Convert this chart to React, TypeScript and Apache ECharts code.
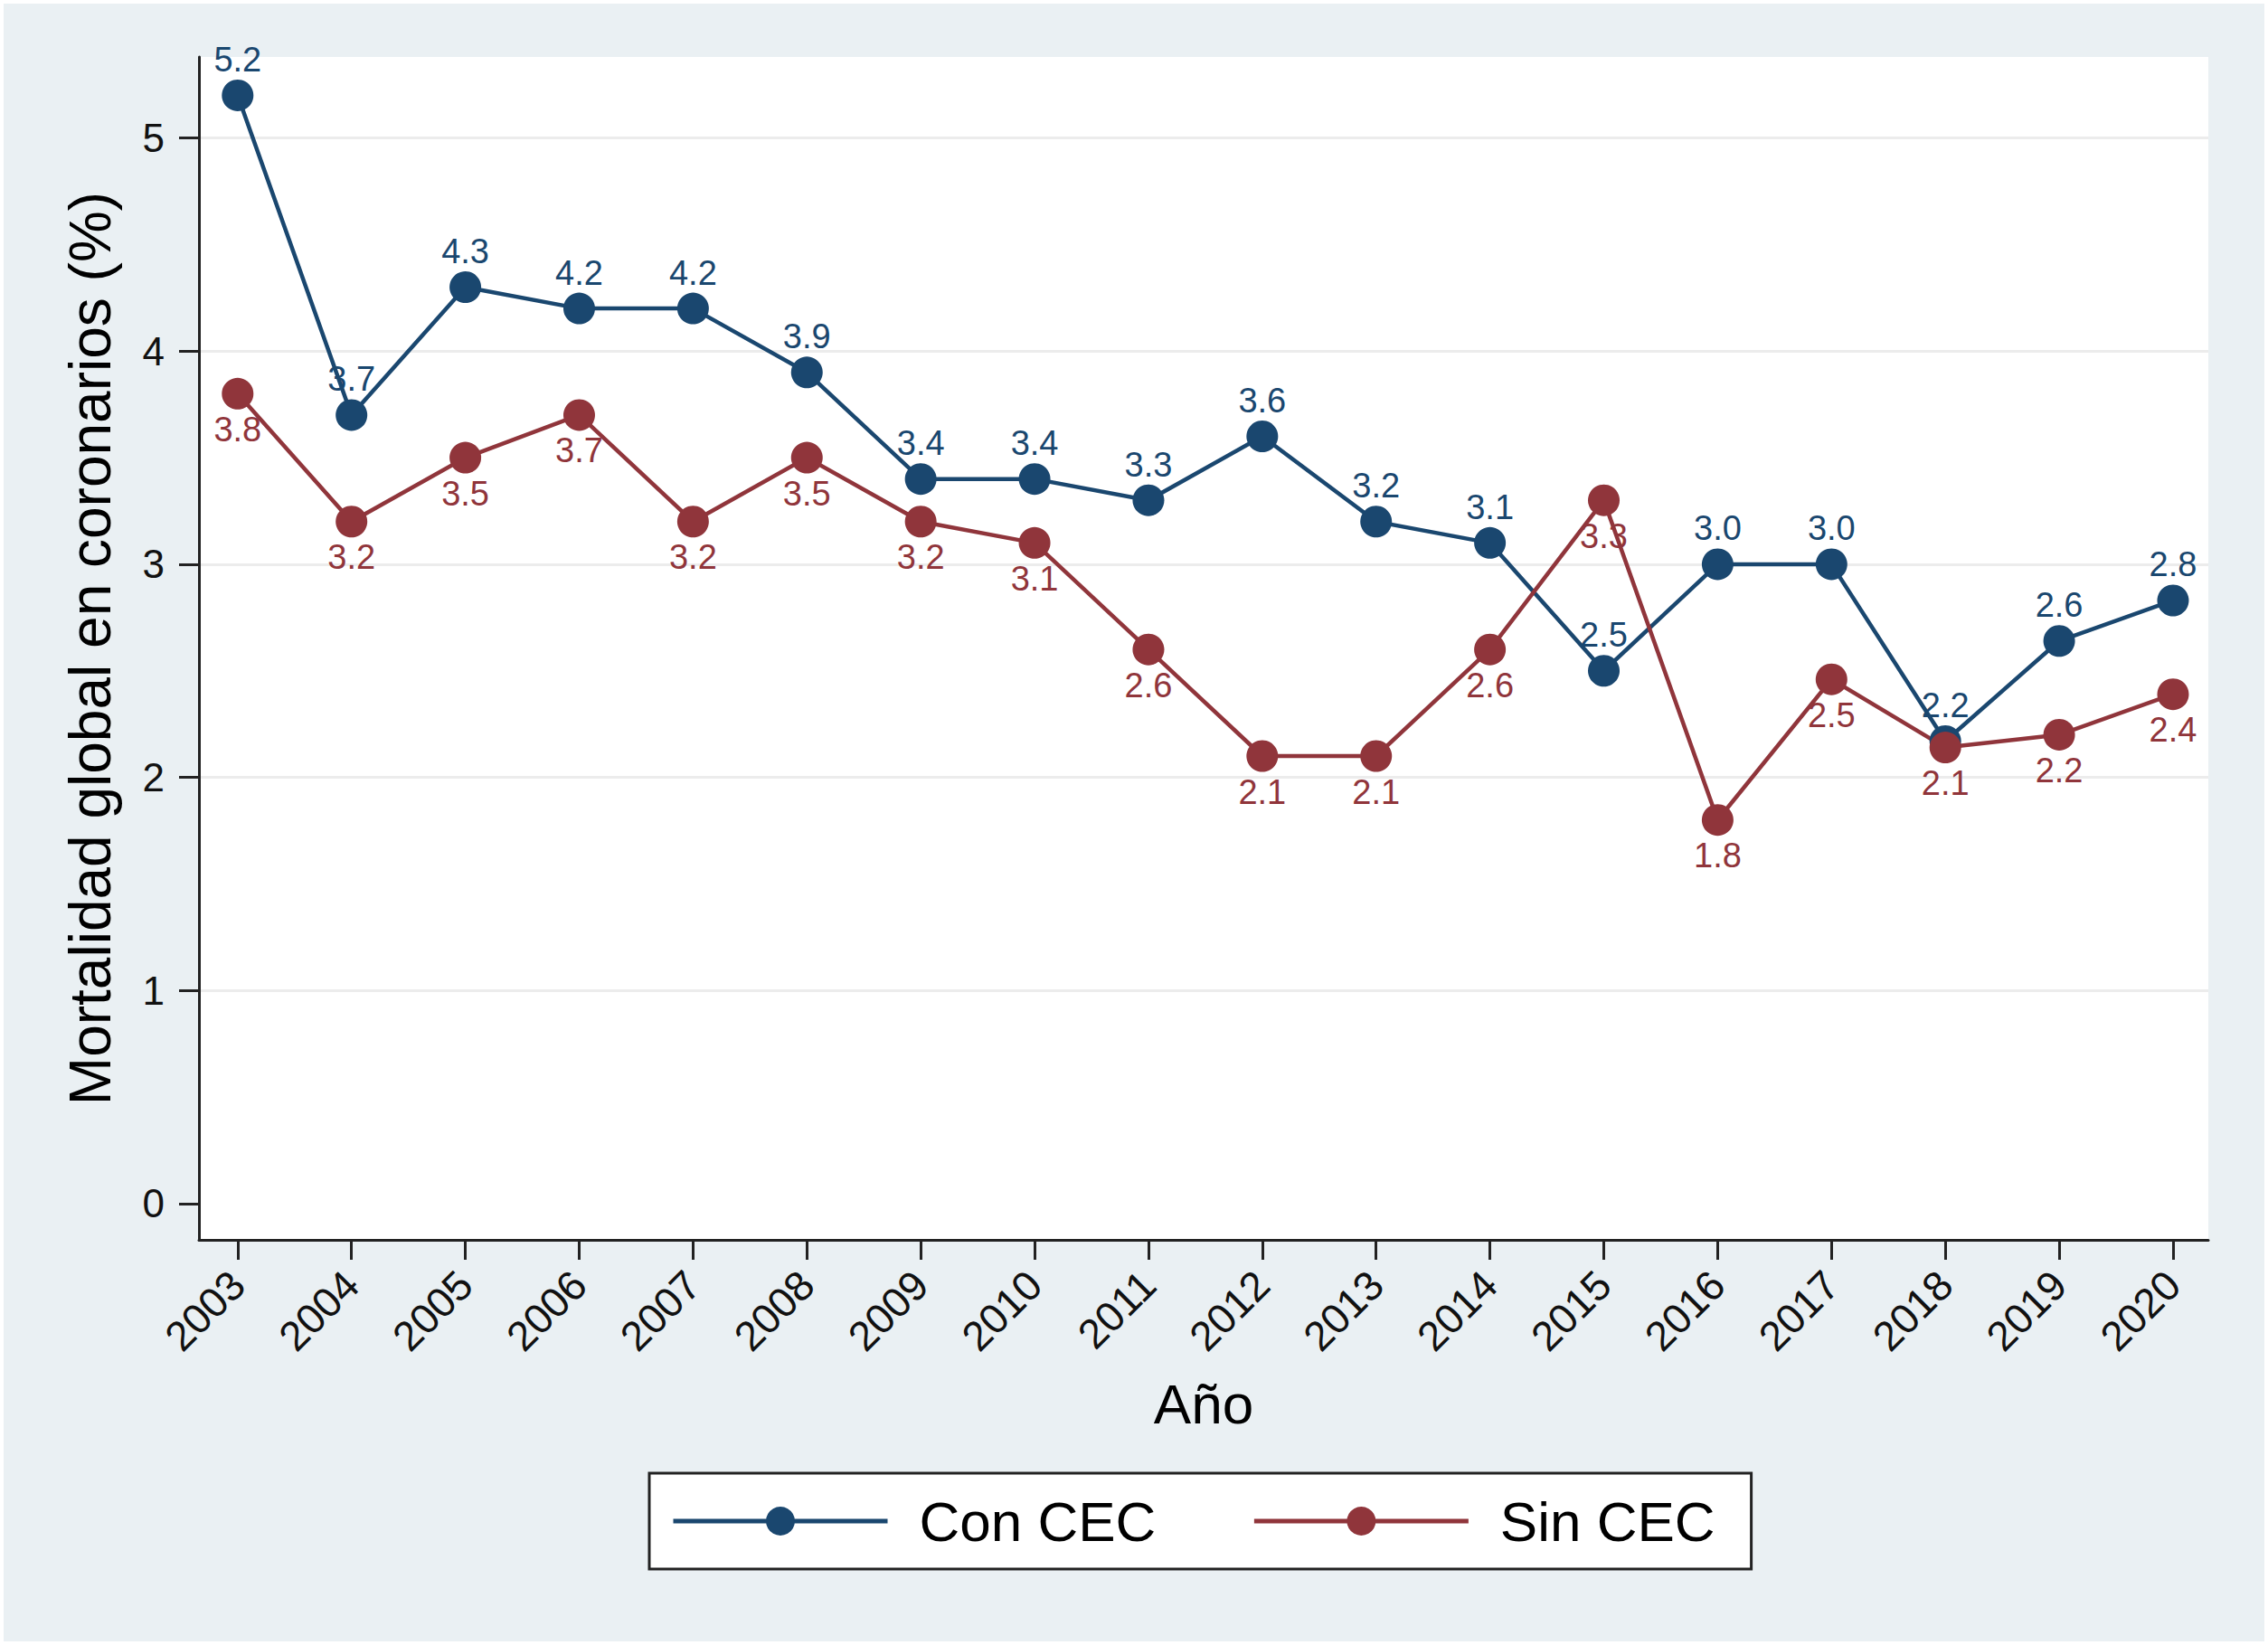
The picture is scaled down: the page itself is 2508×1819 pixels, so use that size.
import React, { useEffect, useRef } from "react";
import * as echarts from "echarts";

const years = [2003, 2004, 2005, 2006, 2007, 2008, 2009, 2010, 2011, 2012, 2013, 2014, 2015, 2016, 2017, 2018, 2019, 2020];
const conCEC = [5.2, 3.7, 4.3, 4.2, 4.2, 3.9, 3.4, 3.4, 3.3, 3.6, 3.2, 3.1, 2.5, 3.0, 3.0, 2.17, 2.64, 2.83];
const sinCEC = [3.8, 3.2, 3.5, 3.7, 3.2, 3.5, 3.2, 3.1, 2.6, 2.1, 2.1, 2.6, 3.3, 1.8, 2.46, 2.14, 2.2, 2.39];
const yTicks = [0, 1, 2, 3, 4, 5];
const seriesNames = ["Con CEC", "Sin CEC"];
const xTitle = "Año";
const yTitle = "Mortalidad global en coronarios (%)";

const BLUE = "#1a476f";
const RED = "#90353b";
const FONT = "'Liberation Sans', Arial, Helvetica, sans-serif";

export default function App() {
  const ref = useRef<HTMLDivElement>(null);
  useEffect(() => {
    document.body.style.margin = "4px";
    document.body.style.background = "#ffffff";
    const chart = echarts.init(ref.current!, null, { renderer: "svg" });
    const mk = (name: string, vals: number[], color: string, pos: string) => ({
      name,
      type: "line",
      data: years.map((y, i) => [y, vals[i]]),
      symbol: "circle",
      symbolSize: 35,
      lineStyle: { color, width: 4.5 },
      itemStyle: { color },
      label: {
        show: true,
        position: pos,
        distance: 3,
        color,
        fontSize: 38,
        fontFamily: FONT,
        formatter: (p: any) => Number(p.value[1]).toFixed(1),
      },
    });
    chart.setOption({
      animation: false,
      backgroundColor: "#eaf0f3",
      textStyle: { fontFamily: FONT },
      grid: { left: 216, top: 59, right: 62, bottom: 444, show: true, backgroundColor: "#ffffff", borderWidth: 0 },
      legend: {
        left: 714,
        top: 1625,
        orient: "horizontal",
        backgroundColor: "#ffffff",
        borderColor: "#222222",
        borderWidth: 3,
        borderRadius: 0,
        padding: [22, 40, 22, 24],
        itemWidth: 237,
        itemHeight: 40,
        itemGap: 106,
        lineStyle: { width: 5 },
        textStyle: { fontSize: 62, color: "#000000", fontFamily: FONT, padding: [0, 0, 0, 30] },
        data: seriesNames,
      },
      xAxis: {
        type: "value",
        min: 2002.66,
        max: 2020.31,
        name: xTitle,
        nameLocation: "middle",
        nameGap: 150,
        nameTextStyle: { fontSize: 62, color: "#000000", fontFamily: FONT },
        axisLine: { show: true, onZero: false, lineStyle: { color: "#222222", width: 3 } },
        axisTick: { show: true, length: 22, lineStyle: { color: "#222222", width: 3 }, customValues: years },
        axisLabel: {
          customValues: years,
          rotate: 45,
          margin: 42,
          fontSize: 46,
          color: "#111111",
          fontFamily: FONT,
          formatter: (v: number) => String(Math.round(v)),
        },
        splitLine: { show: false },
      },
      yAxis: {
        type: "value",
        min: -0.17,
        max: 5.38,
        name: yTitle,
        nameLocation: "middle",
        nameGap: 88,
        nameTextStyle: { fontSize: 64, color: "#000000", fontFamily: FONT },
        axisLine: { show: true, onZero: false, lineStyle: { color: "#222222", width: 3 } },
        axisTick: { show: true, length: 22, lineStyle: { color: "#222222", width: 3 }, customValues: yTicks },
        axisLabel: {
          customValues: yTicks,
          margin: 38,
          fontSize: 44,
          color: "#111111",
          fontFamily: FONT,
          formatter: (v: number) => String(Math.round(v)),
        },
        splitLine: {
          show: true,
          lineStyle: { color: ["#ffffff", "#ececec", "#ececec", "#ececec", "#ececec", "#ececec"], width: 3 },
        },
      },
      series: [mk(seriesNames[0], conCEC, BLUE, "top"), mk(seriesNames[1], sinCEC, RED, "bottom")],
    });
    return () => chart.dispose();
  }, []);
  return <div ref={ref} style={{ width: 2500, height: 1811 }} />;
}
